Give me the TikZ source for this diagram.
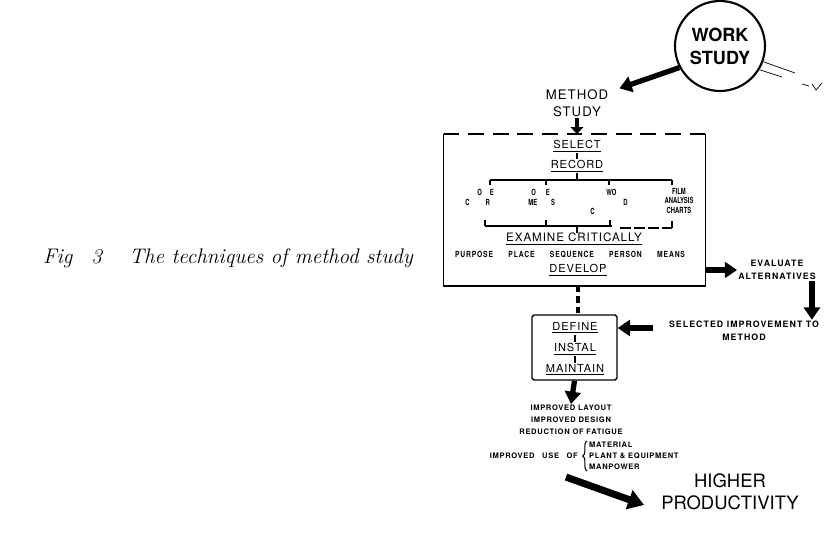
\documentclass[tikz,border=0pt]{standalone}
\usepackage{fontspec}
\setsansfont{TeX Gyre Heros}
\newfontfamily\labfont[LetterSpace=8]{TeX Gyre Heros}
\newfontfamily\lstfont[LetterSpace=12]{TeX Gyre Heros}
\newfontfamily\resfont[LetterSpace=9]{TeX Gyre Heros}
\newfontfamily\askfont[FakeStretch=0.8, LetterSpace=10]{TeX Gyre Heros}
\newfontfamily\chartfont[FakeStretch=0.7]{TeX Gyre Heros}
\usetikzlibrary{arrows.meta, positioning, decorations.pathreplacing}

\begin{document}
\begin{tikzpicture}[x=0.02cm, y=-0.02cm,
    sect/.style={font=\labfont\fontsize{6.3}{7.5}\selectfont, inner sep=0.5pt},
    lst/.style={font=\lstfont\bfseries\fontsize{5}{7.6}\selectfont, align=center, inner sep=0.5pt},
    res/.style={font=\resfont\bfseries\fontsize{4.3}{6.8}\selectfont, inner sep=0.5pt},
    chart/.style={font=\chartfont\bfseries\fontsize{4.8}{5.4}\selectfont, inner sep=0pt},
    link/.style={line width=0.6pt},
    fat arrow/.style={line width=3pt, -{Triangle[length=7pt, width=9pt]}},
    thin arrow/.style={line width=1.8pt, -{Triangle[length=4pt, width=7pt]}}]

    \useasboundingbox (0,0) rectangle (825,536);

    % caption on the left
    \node[font=\itshape\fontsize{12}{14}\selectfont, anchor=west] (cap) at (37,258)
        {Fig\hspace{0.9em}3\hspace{1.3em}The techniques of method study};

    % work study and the way to method study
    \node[circle, draw, line width=1.2pt, minimum size=1.8cm, inner sep=0pt, align=center,
          font=\sffamily\bfseries\fontsize{10.3}{13}\selectfont] (work) at (720,46) {WORK\\STUDY};
    \node[sect, font=\labfont\fontsize{7.5}{9.5}\selectfont, align=center] (method) at (577,103) {METHOD\\STUDY};
    \draw[fat arrow] (work.208) -- ([xshift=0.2cm]method.north east);

    % stub towards the other branch
    \coordinate (wm) at (809,86);
    \draw[thin] (work.-20) -- (795,73);
    \draw[thin] (work.-31) -- (782,77);
    \draw[thin] (802,84) -- (wm);
    \draw[thin] (812,84) .. controls (814,88) .. (816,90) -- (822,83);

    % method study box
    \node[minimum width=5.22cm, minimum height=3.02cm, inner sep=0pt] (ms) at (574.5,210) {};
    \draw[line width=0.8pt] (ms.north west) -- (ms.south west) -- (ms.south east) -- (ms.north east);
    \draw[line width=0.8pt, dash pattern=on 9pt off 5pt] (ms.north west) -- (ms.north east);
    \draw[thin arrow] (method.south) -- (method.south |- ms.north);

    \node[sect] (select) at (577,146) {\underline{SELECT}};
    \node[sect] (record) at (577,166) {\underline{RECORD}};
    \draw[link] (select) -- (record);

    % recording charts
    \node[chart, anchor=north west, align=left] (c1) at (465,189) {\hspace*{0.24cm}O\hspace{0.16cm}E\\C\hspace{0.32cm}R};
    \node[chart, anchor=north west, align=left] (c2) at (528,189) {\hspace*{0.06cm}O\hspace{0.2cm}E\\ME\hspace{0.28cm}S};
    \node[chart, anchor=north west, align=left] (c3) at (588,189) {\hspace*{0.36cm}WO\\\hspace*{0.7cm}D\\\hspace*{0.04cm}C};
    \node[chart, anchor=north, align=center] (c4) at (679,188) {FILM\\ANALYSIS\\CHARTS};
    \draw[link] (record.south) -- (577,180);
    \draw[link] (490,180) -- (672,180);
    \foreach \x in {490,546,609,672} \draw[link] (\x,180) -- (\x,185);
    \draw[link] (485,226) -- (612,226);
    \draw[link, dash pattern=on 6pt off 2pt] (620,228) -- (672,228);
    \foreach \x in {485,546,610} \draw[link] (\x,226) -- (\x,220);
    \draw[link] (672,228) -- (672,221);

    \node[sect, font=\labfont\fontsize{6.6}{8}\selectfont] (examine) at (574,239) {\underline{EXAMINE CRITICALLY}};
    \draw[link] (577,226) -- (577,233);
    \node[font=\askfont\bfseries\fontsize{4.8}{6}\selectfont, inner sep=0.5pt] (ask) at (570,255)
        {\makebox[4.6cm][s]{PURPOSE\hfill PLACE\hfill SEQUENCE\hfill PERSON\hfill MEANS}};
    \node[sect] (develop) at (578,270) {\underline{DEVELOP}};

    % alternatives
    \node[lst] (eval) at (777,270) {EVALUATE\\ALTERNATIVES};
    \draw[fat arrow] (ms.east |- eval.west) -- (eval.west);
    \node[lst] (sel) at (744,331) {SELECTED IMPROVEMENT TO\\METHOD};
    \draw[fat arrow] ([xshift=-0.1cm]eval.south east) -- ([xshift=-0.1cm]eval.south east |- sel.north);

    % define, instal, maintain
    \node[draw, line width=0.8pt, rounded corners=1pt, minimum width=1.7cm, minimum height=1.3cm]
        (dbox) at (574.5,347.5) {};
    \node[sect] (define) at (575,328) {\underline{DEFINE}};
    \node[sect] (instal) at (575,349) {\underline{INSTAL}};
    \node[sect] (maintain) at (575,370) {\underline{MAINTAIN}};
    \draw[link] (define) -- (instal);
    \draw[link] (instal) -- (maintain);
    \draw[line width=1.8pt, dash pattern=on 3.5pt off 2.5pt] (develop.south |- ms.south) -- (develop.south |- dbox.north);
    \draw[fat arrow] ([xshift=-0.3cm]sel.west |- define) -- (dbox.east |- define);

    % results
    \node[res, align=center, anchor=north] (res) at (571,404)
        {IMPROVED LAYOUT\\IMPROVED DESIGN\\REDUCTION OF FATIGUE};
    \draw[fat arrow] (dbox.south) -- (res.north);
    \node[res, font=\resfont\bfseries\fontsize{4.3}{6.2}\selectfont, align=left, anchor=north west] (items) at (588,441)
        {MATERIAL\\PLANT \& EQUIPMENT\\MANPOWER};
    \node[res, anchor=east] (use) at (579,456) {IMPROVED\hspace{1em}USE\hspace{1em}OF};
    \draw[line width=0.6pt, decorate, decoration={brace, amplitude=2.5pt}]
        ([xshift=-0.02cm]items.south west) -- ([xshift=-0.02cm]items.north west);

    \node[font=\sffamily\fontsize{10.5}{12.5}\selectfont, align=center] (hp) at (730,492) {HIGHER\\PRODUCTIVITY};
    \draw[line width=4pt, -{Triangle[length=9pt, width=11pt]}] ([xshift=-0.26cm, yshift=-0.34cm]use.south east) -- ([xshift=-0.22cm, yshift=-0.26cm]hp.west);
\end{tikzpicture}
\end{document}
